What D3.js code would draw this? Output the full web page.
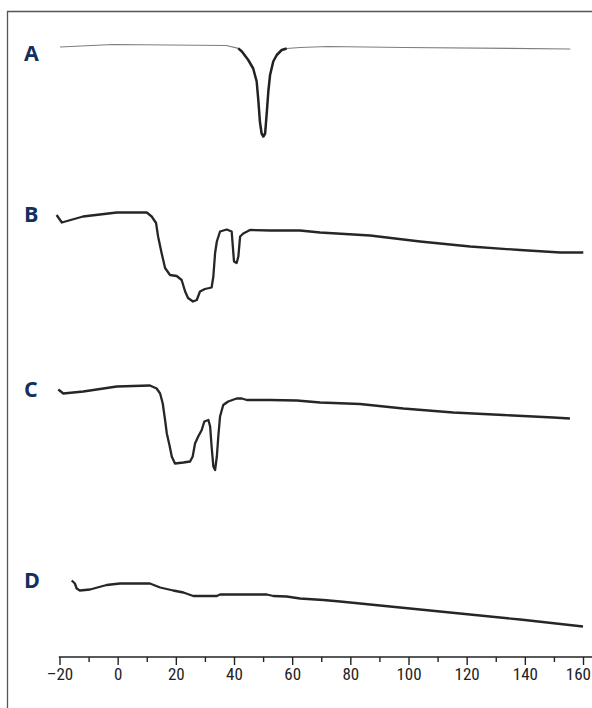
<!DOCTYPE html>
<html>
<head>
<meta charset="utf-8">
<script src="https://cdn.jsdelivr.net/npm/d3@7"></script>
<style>
  html, body { margin: 0; padding: 0; background: #fff; }
  svg { display: block; }
</style>
</head>
<body>
<svg id="chart" width="592" height="708"></svg>
<script>
// DSC thermograms: temperature (°C) vs heat flow (relative units, endotherm down)
const tickValuesMajor = [-20, 0, 20, 40, 60, 80, 100, 120, 140, 160];
const tickLabels = ["\u201320", "0", "20", "40", "60", "80", "100", "120", "140", "160"];
const tickValuesMinor = [-10, 10, 30, 50, 70, 90, 110, 130, 150];

const traceNames = ["A", "B", "C", "D"];

// trace A — single sharp endotherm near 50 °C
const traceA = [
  [-19.8, 0.0], [-1.6, 0.5], [37.3, 0.3], [41.5, -0.26], [42.7, -0.9], [44.9, -2.6],
  [46.6, -4.3], [47.8, -6.9], [48.4, -10.9], [48.9, -14.9], [49.5, -17.3], [50.1, -17.9],
  [50.7, -17.3], [51.3, -12.9], [51.8, -8.9], [52.4, -5.6], [53.5, -2.9], [54.7, -1.6],
  [56.4, -0.6], [58.1, -0.3], [62.7, -0.1], [72.3, 0.1], [98.5, -0.1], [155.6, -0.4]
];

// trace B — broad endotherm with a shoulder and a second small peak
const traceB = [
  [-21.0, -0.6], [-19.2, -2.1], [-11.9, -0.9], [-0.3, -0.1], [10.0, -0.1], [11.7, -0.9],
  [13.2, -2.2], [13.9, -4.9], [15.1, -8.2], [16.3, -11.2], [18.0, -12.6], [20.3, -12.8],
  [22.0, -13.6], [23.2, -15.9], [24.2, -17.2], [25.9, -17.9], [27.2, -17.6], [28.3, -15.9],
  [30.0, -15.4], [32.3, -15.1], [32.9, -12.9], [33.5, -8.2], [34.1, -5.9], [35.2, -3.9],
  [37.5, -3.5], [39.2, -3.9], [39.6, -6.9], [40.0, -9.9], [40.9, -10.2], [41.5, -8.9],
  [42.1, -4.9], [43.2, -4.3], [45.5, -3.6], [52.4, -3.7], [62.7, -3.7], [69.6, -4.1],
  [86.8, -4.7], [104.0, -5.9], [121.2, -6.9], [138.4, -7.6], [152.2, -8.1], [160.1, -8.1]
];

// trace C — wide endotherm followed by a sharp peak near 33 °C
const traceC = [
  [-20.4, -0.5], [-18.7, -1.3], [-11.8, -0.9], [-0.3, 0.1], [11.1, 0.3], [13.4, -0.3],
  [14.6, -1.3], [15.5, -3.3], [16.3, -6.6], [16.9, -9.3], [17.8, -11.6], [18.6, -13.9],
  [19.7, -15.3], [22.6, -15.1], [24.9, -14.9], [25.8, -13.9], [26.6, -11.3], [27.7, -9.9],
  [28.9, -8.6], [29.8, -6.9], [31.2, -6.6], [31.8, -7.9], [32.3, -11.9], [32.9, -15.9],
  [33.5, -16.6], [34.1, -13.9], [34.6, -9.9], [35.2, -5.9], [36.3, -3.6], [38.0, -2.9],
  [40.9, -2.3], [42.7, -2.3], [44.4, -2.6], [52.4, -2.6], [61.6, -2.7], [69.6, -3.1],
  [83.3, -3.4], [98.2, -4.3], [115.4, -5.1], [132.6, -5.6], [149.8, -6.1], [155.5, -6.3]
];

// trace D — no distinct transition, slow drift
const traceD = [
  [-15.8, 0.5], [-14.7, -0.1], [-14.1, -1.1], [-13.0, -1.5], [-9.5, -1.3], [-3.8, -0.4],
  [0.8, -0.1], [11.1, -0.1], [14.6, -0.9], [19.1, -1.5], [22.6, -1.9], [26.0, -2.6],
  [34.1, -2.6], [35.2, -2.3], [51.3, -2.3], [53.5, -2.6], [58.1, -2.7], [62.7, -3.1],
  [70.7, -3.4], [76.5, -3.7], [97.1, -4.9], [117.7, -6.1], [138.4, -7.3], [160.0, -8.7]
];

const W = 592, H = 708;
const svg = d3.select("#chart");

// frame (top and left rules)
svg.append("path")
  .attr("d", `M7.5,${H} L7.5,11.5 L${W},11.5`)
  .attr("fill", "none")
  .attr("stroke", "#555")
  .attr("stroke-width", 1.3);

const x = d3.scaleLinear().domain([-20, 160]).range([59.5, 583]);

// each trace gets its own vertical band
const bandTop = [47, 212, 387, 583];
const yFor = i => d3.scaleLinear().domain([0, -20]).range([bandTop[i], bandTop[i] + 100]);

const traces = [traceA, traceB, traceC, traceD];
const labelBaseline = [61, 222, 397, 588];

traces.forEach((data, i) => {
  const y = yFor(i);
  const line = d3.line().x(d => x(d[0])).y(d => y(d[1])).curve(d3.curveLinear);
  if (i === 0) {
    // thin baseline, heavier stroke through the melting peak
    svg.append("path").datum(data).attr("d", line)
      .attr("fill", "none").attr("stroke", "#7d7d7d").attr("stroke-width", 1.2);
    svg.append("path").datum(data.filter(d => d[0] >= 41.5 && d[0] <= 58.1)).attr("d", line)
      .attr("fill", "none").attr("stroke", "#222").attr("stroke-width", 2.5)
      .attr("stroke-linejoin", "round");
  } else {
    svg.append("path").datum(data).attr("d", line)
      .attr("fill", "none").attr("stroke", "#262626").attr("stroke-width", 2.3)
      .attr("stroke-linejoin", "round");
  }
  svg.append("text")
    .attr("x", 24).attr("y", labelBaseline[i])
    .attr("font-family", "'Open Sans', 'Noto Sans', sans-serif")
    .attr("font-weight", 700)
    .attr("font-size", 21.5)
    .attr("fill", "#132f5e")
    .text(traceNames[i]);
});

// temperature axis
const axisY = 657;
const gAxis = svg.append("g").attr("transform", `translate(0,${axisY})`);
gAxis.call(d3.axisBottom(x).tickValues(tickValuesMajor).tickSize(8).tickSizeOuter(0)
  .tickFormat((d, k) => tickLabels[k]));
gAxis.select(".domain").remove();
gAxis.selectAll(".tick line").attr("stroke", "#222").attr("stroke-width", 1.4);
gAxis.selectAll(".tick text")
  .attr("font-family", "'Liberation Sans Narrow', 'Roboto Condensed', 'Liberation Sans', sans-serif")
  .attr("font-size", 17)
  .attr("fill", "#222")
  .attr("dy", "0.71em")
  .attr("y", 11);

// keep the last label inside the page edge
gAxis.selectAll(".tick text").each(function() {
  const tick = this.parentNode;
  const tx = +d3.select(tick).attr("transform").match(/translate\(([-\d.]+)/)[1];
  const w = this.getComputedTextLength();
  const overflow = tx + w / 2 - (W - 1);
  if (overflow > 0) d3.select(this).attr("x", -overflow);
});

const gMinor = svg.append("g").attr("transform", `translate(0,${axisY})`);
gMinor.call(d3.axisBottom(x).tickValues(tickValuesMinor).tickSize(5).tickFormat(""));
gMinor.select(".domain").remove();
gMinor.selectAll(".tick line").attr("stroke", "#222").attr("stroke-width", 1.4);

svg.append("line")
  .attr("x1", x(-20) - 0.7).attr("x2", W)
  .attr("y1", axisY).attr("y2", axisY)
  .attr("stroke", "#222").attr("stroke-width", 1.6);
</script>
</body>
</html>
